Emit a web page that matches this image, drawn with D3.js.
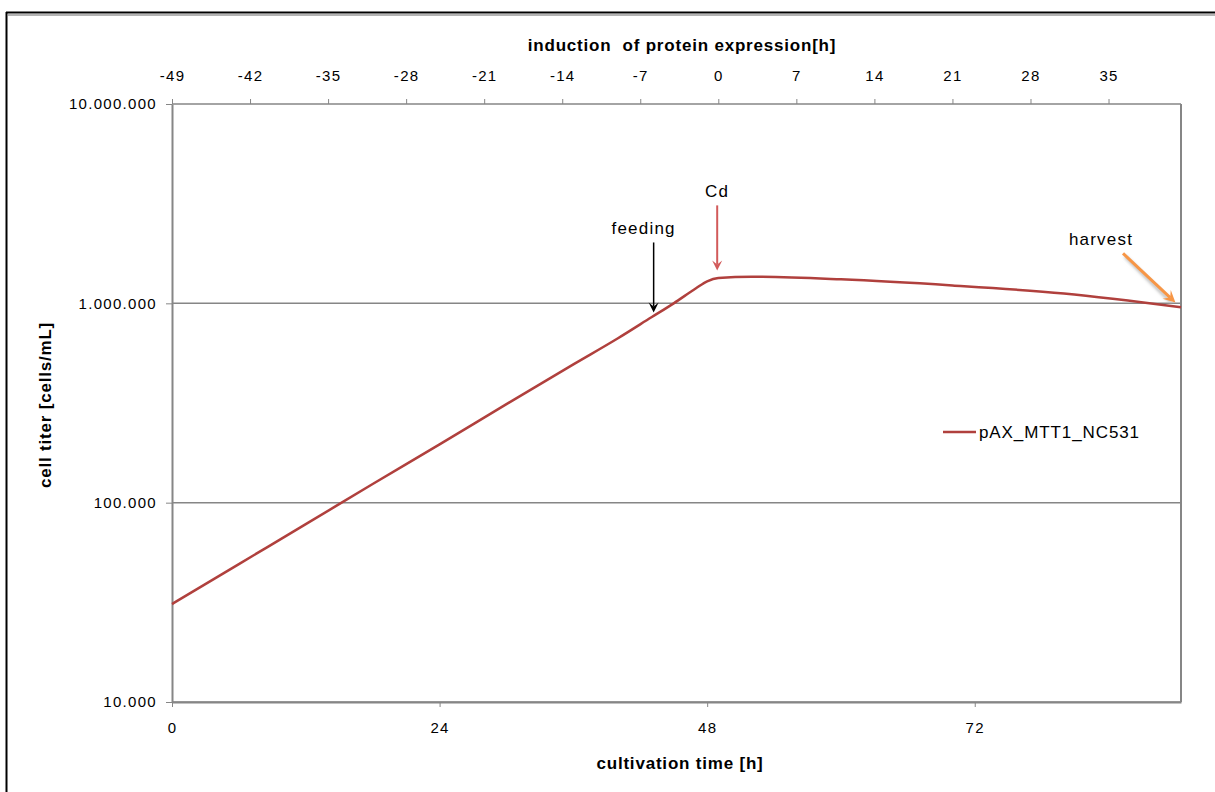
<!DOCTYPE html>
<html>
<head>
<meta charset="utf-8">
<script src="https://cdn.jsdelivr.net/npm/d3@7"></script>
<style>
  body { margin: 0; background: #fff; }
  text { font-family: "Liberation Sans", Arial, sans-serif; }
</style>
</head>
<body>
<script>
// ---- data ----
let hours  = [0, 6, 12, 18, 24, 30, 36, 40, 43, 45, 47, 48, 49, 52, 60, 70, 80, 90.5];
let titers = [31000, 49200, 78000, 124000, 196000, 312000, 494000, 668000, 851000,
              1000000, 1190000, 1290000, 1340000, 1360000, 1320000, 1230000, 1120000, 955000];
let seriesName = "pAX_MTT1_NC531";

let bottomTicks = [0, 24, 48, 72];
let topTicks = [-49, -42, -35, -28, -21, -14, -7, 0, 7, 14, 21, 28, 35];
let yTicks = [10000, 100000, 1000000, 10000000];
let inductionOffset = 49;

// annotations: label, arrow tail (t, value), arrow tip (t, value)
let notes = [
    {label: "feeding", t0: 43.2, v0: 2020000, t1: 43.2, v1: 900000, color: "#000000", w: 1.5},
    {label: "Cd", t0: 48.9, v0: 3100000, t1: 48.9, v1: 1460000, color: "#d25a5a", w: 2},
    {label: "harvest", t0: 85.3, v0: 1780000, t1: 90.0, v1: 1010000, color: "#f79646", w: 3}
];

let width = 1215,
    height = 792,
    plotLeft = 172, plotRight = 1181, plotTop = 104, plotBottom = 702;

let svg = d3.select("body")
    .append("svg")
    .attr("width", width)
    .attr("height", height);

let x = d3.scaleLinear().domain([0, 90.5]).range([plotLeft, plotRight]);
let xTop = d3.scaleLinear().domain([0 - inductionOffset, 90.5 - inductionOffset]).range([plotLeft, plotRight]);
let y = d3.scaleLog().domain([10000, 10000000]).range([plotBottom, plotTop]);

let de = d3.formatLocale({decimal: ",", thousands: ".", grouping: [3], currency: ["", ""], minus: "-"});
let fmt = de.format(",d");
let fmtTop = de.format("d");

let grey = "#868686";

/* ------- outer frame -------*/
svg.append("line").attr("x1", 6).attr("x2", width).attr("y1", 12.5).attr("y2", 12.5)
    .attr("stroke", "#000").attr("stroke-width", 2);
svg.append("line").attr("x1", 8).attr("x2", width).attr("y1", 15).attr("y2", 15)
    .attr("stroke", "#9a9a9a").attr("stroke-width", 1.5);
svg.append("line").attr("x1", 6.5).attr("x2", 6.5).attr("y1", 12).attr("y2", height)
    .attr("stroke", "#000").attr("stroke-width", 2);

/* ------- gridlines -------*/
svg.append("g")
    .selectAll("line")
    .data(yTicks)
    .enter()
    .append("line")
    .attr("x1", plotLeft).attr("x2", plotRight)
    .attr("y1", d => y(d)).attr("y2", d => y(d))
    .attr("stroke", grey).attr("stroke-width", 1.5);

/* ------- axes -------*/
function styleAxis(g){
    g.select(".domain").attr("stroke", grey).attr("stroke-width", 2);
    g.selectAll(".tick line").attr("stroke", grey).attr("stroke-width", 1);
    g.selectAll(".tick text")
        .attr("fill", "#000")
        .style("font-size", "15px")
        .style("letter-spacing", "1.3px");
}

let gBottom = svg.append("g")
    .attr("transform", "translate(0," + plotBottom + ")")
    .call(d3.axisBottom(x).tickValues(bottomTicks).tickSize(5).tickPadding(15).tickSizeOuter(0));
styleAxis(gBottom);

let gTop = svg.append("g")
    .attr("transform", "translate(0," + plotTop + ")")
    .call(d3.axisTop(xTop).tickValues(topTicks).tickFormat(fmtTop).tickSize(5).tickPadding(18).tickSizeOuter(0));
styleAxis(gTop);
gTop.select(".domain").remove();

let gLeft = svg.append("g")
    .attr("transform", "translate(" + plotLeft + ",0)")
    .call(d3.axisLeft(y).tickValues(yTicks).tickFormat(fmt).tickSize(6).tickPadding(9).tickSizeOuter(0));
styleAxis(gLeft);

// right frame edge
svg.append("line").attr("x1", plotRight).attr("x2", plotRight).attr("y1", plotTop).attr("y2", plotBottom)
    .attr("stroke", grey).attr("stroke-width", 2);

/* ------- titles -------*/
svg.append("text")
    .attr("x", 682).attr("y", 51)
    .attr("text-anchor", "middle")
    .attr("xml:space", "preserve")
    .style("font-size", "17px").style("font-weight", "bold").style("letter-spacing", "0.8px")
    .text("induction  of protein expression[h]");

svg.append("text")
    .attr("x", 680).attr("y", 769)
    .attr("text-anchor", "middle")
    .style("font-size", "17px").style("font-weight", "bold").style("letter-spacing", "0.8px")
    .text("cultivation time [h]");

svg.append("text")
    .attr("transform", "translate(51,405) rotate(-90)")
    .attr("text-anchor", "middle")
    .style("font-size", "17px").style("font-weight", "bold").style("letter-spacing", "0.8px")
    .text("cell titer [cells/mL]");

/* ------- series -------*/
let points = hours.map((h, i) => [h, titers[i]]);
let line = d3.line()
    .x(d => x(d[0]))
    .y(d => y(d[1]))
    .curve(d3.curveMonotoneX);

svg.append("path")
    .datum(points)
    .attr("d", line)
    .attr("fill", "none")
    .attr("stroke", "#b0403d")
    .attr("stroke-width", 2.5);

/* ------- annotations -------*/
let defs = svg.append("defs");
defs.append("filter").attr("id", "blur")
    .append("feGaussianBlur").attr("stdDeviation", 1.5);

notes.forEach(function(n){
    let x0 = x(n.t0), y0 = y(n.v0), x1 = x(n.t1), y1 = y(n.v1);
    let ang = Math.atan2(y1 - y0, x1 - x0);
    let hl = n.w > 2 ? 12 : 10, hw = n.w > 2 ? 6 : 5;
    let head = [
        [x1, y1],
        [x1 - hl * Math.cos(ang) + hw * Math.sin(ang), y1 - hl * Math.sin(ang) - hw * Math.cos(ang)],
        [x1 - hl * 0.6 * Math.cos(ang), y1 - hl * 0.6 * Math.sin(ang)],
        [x1 - hl * Math.cos(ang) - hw * Math.sin(ang), y1 - hl * Math.sin(ang) + hw * Math.cos(ang)]
    ];
    let g = svg.append("g");
    if(n.label === "harvest"){
        // soft shadow like the original
        g.append("line")
            .attr("x1", x0 + 2).attr("y1", y0 + 3).attr("x2", x1 - 4).attr("y2", y1)
            .attr("stroke", "#bbb").attr("stroke-width", n.w).attr("filter", "url(#blur)");
    }
    g.append("line")
        .attr("x1", x0).attr("y1", y0)
        .attr("x2", x1 - hl * 0.6 * Math.cos(ang)).attr("y2", y1 - hl * 0.6 * Math.sin(ang))
        .attr("stroke", n.color).attr("stroke-width", n.w);
    g.append("polygon")
        .attr("points", head.map(p => p.join(",")).join(" "))
        .attr("fill", n.color);
    let tx = n.label === "harvest" ? x0 - 22 : x0 - (n.label === "feeding" ? 10 : 0);
    g.append("text")
        .attr("x", tx).attr("y", y0 - 8)
        .attr("text-anchor", "middle")
        .style("font-size", "17px").style("letter-spacing", "1.2px")
        .text(n.label);
});

/* ------- legend -------*/
let legend = svg.append("g").attr("transform", "translate(943,432)");
legend.append("line").attr("x1", 0).attr("x2", 33).attr("y1", 0).attr("y2", 0)
    .attr("stroke", "#b0403d").attr("stroke-width", 2.5);
legend.append("text").attr("x", 36).attr("y", 6)
    .style("font-size", "17px").style("letter-spacing", "0.9px")
    .text(seriesName);
</script>
</body>
</html>
